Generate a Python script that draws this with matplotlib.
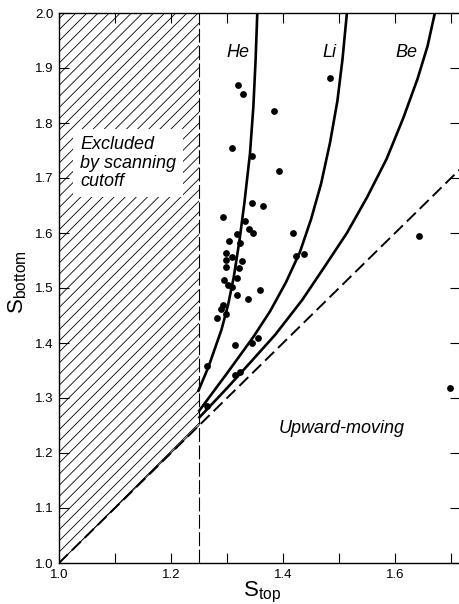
import numpy as np
import matplotlib
matplotlib.use("Agg")
import matplotlib.pyplot as plt
from matplotlib.ticker import MultipleLocator, FuncFormatter

plt.rcParams['font.family'] = ['Liberation Sans', 'DejaVu Sans']
plt.rcParams['mathtext.fontset'] = 'custom'
plt.rcParams['mathtext.rm'] = 'Liberation Sans'
plt.rcParams['hatch.linewidth'] = 0.6
plt.rcParams['lines.scale_dashes'] = False

# Measured events (S_top, S_bottom)
s_top = [1.320, 1.329, 1.383, 1.309, 1.344, 1.393, 1.345, 1.364, 1.292, 1.332,
         1.339, 1.347, 1.317, 1.417, 1.304, 1.324, 1.298, 1.309, 1.424, 1.4375,
         1.299, 1.327, 1.299, 1.322, 1.317, 1.295, 1.301, 1.308, 1.359, 1.317,
         1.338, 1.293, 1.289, 1.299, 1.282, 1.314, 1.344, 1.356, 1.265, 1.314,
         1.323, 1.264, 1.483, 1.643, 1.698]
s_bottom = [1.869, 1.852, 1.821, 1.754, 1.740, 1.713, 1.654, 1.650, 1.630, 1.622,
            1.608, 1.600, 1.599, 1.600, 1.585, 1.581, 1.564, 1.557, 1.559, 1.562,
            1.551, 1.549, 1.539, 1.536, 1.519, 1.514, 1.505, 1.501, 1.497, 1.488,
            1.480, 1.470, 1.462, 1.453, 1.446, 1.397, 1.400, 1.409, 1.359, 1.342,
            1.348, 1.286, 1.882, 1.594, 1.319]

# Expected curves for downward-moving nuclei
he_top = [1.248, 1.267, 1.290, 1.302, 1.312, 1.322, 1.331, 1.341, 1.347, 1.351, 1.354]
he_bottom = [1.311, 1.357, 1.424, 1.470, 1.520, 1.585, 1.655, 1.745, 1.830, 1.915, 2.0]
li_top = [1.249, 1.300, 1.347, 1.377, 1.405, 1.430, 1.450, 1.468, 1.484, 1.497, 1.506, 1.514]
li_bottom = [1.275, 1.345, 1.411, 1.458, 1.510, 1.565, 1.625, 1.690, 1.765, 1.840, 1.915, 2.0]
be_top = [1.249, 1.300, 1.341, 1.386, 1.434, 1.475, 1.514, 1.550, 1.585, 1.615, 1.640,
          1.658, 1.671]
be_bottom = [1.263, 1.318, 1.364, 1.415, 1.478, 1.540, 1.600, 1.665, 1.735, 1.810, 1.880,
             1.940, 2.0]

cutoff = 1.25
x_range = (1.0, 1.715)
y_range = (1.0, 2.0)

fig = plt.figure(figsize=(4.6, 6.04), dpi=100)
ax = fig.add_axes([59 / 460, 41 / 604, 400.5 / 460, 550 / 604])
ax.set_xlim(*x_range)
ax.set_ylim(*y_range)

# Excluded region: left of the cutoff and above the S_bottom = S_top line
hx = np.array([x_range[0], cutoff])
ax.fill_between(hx, hx, y_range[1], facecolor='none', edgecolor='black',
                hatch='///', linewidth=0)
ax.plot(hx, hx, color='black', lw=0.6)
ax.axvline(cutoff, color='black', lw=0.8, dashes=(10, 2.5))

# S_bottom = S_top
dx = np.array(x_range)
ax.plot(dx, dx, color='black', lw=1.4, dashes=(9, 4))

for xs, ys in [(he_top, he_bottom), (li_top, li_bottom), (be_top, be_bottom)]:
    ax.plot(xs, ys, color='black', lw=1.9, solid_capstyle='butt', solid_joinstyle='round')

ax.scatter(s_top, s_bottom, s=24, color='black', zorder=5, linewidths=0)

lab = dict(style='italic', fontsize=13, ha='center', va='center')
ax.text(1.320, 1.929, 'He', **lab)
ax.text(1.483, 1.929, 'Li', **lab)
ax.text(1.621, 1.929, 'Be', **lab)
ax.text(1.0375, 1.727, 'Excluded\nby scanning\ncutoff', style='italic', fontsize=13,
        ha='left', va='center', linespacing=1.1,
        bbox=dict(facecolor='white', edgecolor='none', pad=5))
ax.text(1.505, 1.244, 'Upward-moving', **lab)

ax.xaxis.set_major_locator(MultipleLocator(0.1))
ax.yaxis.set_major_locator(MultipleLocator(0.1))
ax.xaxis.set_major_formatter(FuncFormatter(
    lambda v, p: f'{v:.1f}' if round(v * 10) % 2 == 0 else ''))
ax.yaxis.set_major_formatter(FuncFormatter(lambda v, p: f'{v:.1f}'))
ax.tick_params(which='both', direction='in', length=7, width=0.8,
               top=True, right=True, labelsize=9.5, pad=4)

for sp in ax.spines.values():
    sp.set_linewidth(1.0)

ax.set_xlabel(r'$\mathregular{S_{top}}$', fontsize=16)
ax.set_ylabel(r'$\mathregular{S_{bottom}}$', fontsize=16)
ax.xaxis.set_label_coords(0.507, -0.030)
ax.yaxis.set_label_coords(-0.075, 0.51)

fig.savefig('out.png', dpi=100)
